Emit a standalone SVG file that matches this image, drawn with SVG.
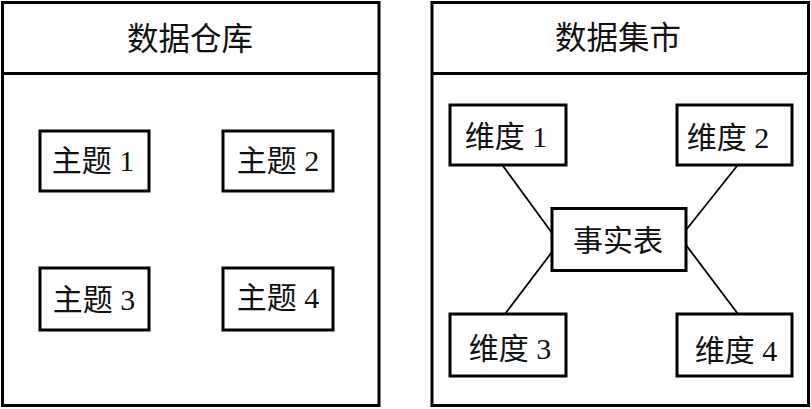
<svg xmlns="http://www.w3.org/2000/svg" width="811" height="409" viewBox="0 0 811 409">
<style>
.frame{fill:#fff;stroke:#000;stroke-width:3}
.box{fill:#fff;stroke:#000;stroke-width:3}
.t{font-family:"Liberation Serif","Noto Sans CJK SC",serif;font-size:30px;fill:#111;text-anchor:middle}
.h{font-size:31.5px}
.ln{stroke:#000;stroke-width:1.8;fill:none}
</style>
<rect width="811" height="409" fill="#fff"/>
<g id="warehouse">
<rect class="frame" x="2.5" y="2.5" width="376.5" height="403"/>
<line class="ln" x1="2.5" y1="73.5" x2="379" y2="73.5" style="stroke-width:3"/>
<text class="t h" x="190" y="50">数据仓库</text>
</g>
<g id="topic1"><rect class="box" x="40" y="131" width="109" height="60"/><text class="t" x="93" y="171">主题 1</text></g>
<g id="topic2"><rect class="box" x="223" y="131" width="110" height="60"/><text class="t" x="278" y="171">主题 2</text></g>
<g id="topic3"><rect class="box" x="40" y="268" width="109" height="62"/><text class="t" x="94" y="310">主题 3</text></g>
<g id="topic4"><rect class="box" x="223" y="268" width="110" height="62"/><text class="t" x="278" y="308">主题 4</text></g>
<g id="mart">
<rect class="frame" x="432" y="2.5" width="376.5" height="403"/>
<line class="ln" x1="432" y1="73.5" x2="808.5" y2="73.5" style="stroke-width:3"/>
<text class="t h" x="618" y="49">数据集市</text>
</g>
<g id="connectors">
<line class="ln" x1="503" y1="166" x2="552" y2="233"/>
<line class="ln" x1="737" y1="166" x2="686" y2="230"/>
<line class="ln" x1="505" y1="314" x2="552" y2="252"/>
<line class="ln" x1="738" y1="314" x2="686" y2="245"/>
</g>
<g id="dim1"><rect class="box" x="450" y="105" width="116" height="60"/><text class="t" x="506" y="147">维度 1</text></g>
<g id="dim2"><rect class="box" x="677" y="105" width="115" height="60"/><text class="t" x="728" y="148">维度 2</text></g>
<g id="fact"><rect class="box" x="552" y="208.5" width="134" height="62"/><text class="t" x="618" y="251">事实表</text></g>
<g id="dim3"><rect class="box" x="450" y="314" width="116" height="62"/><text class="t" x="510" y="359">维度 3</text></g>
<g id="dim4"><rect class="box" x="677" y="314" width="115" height="62"/><text class="t" x="736" y="361">维度 4</text></g>
</svg>
